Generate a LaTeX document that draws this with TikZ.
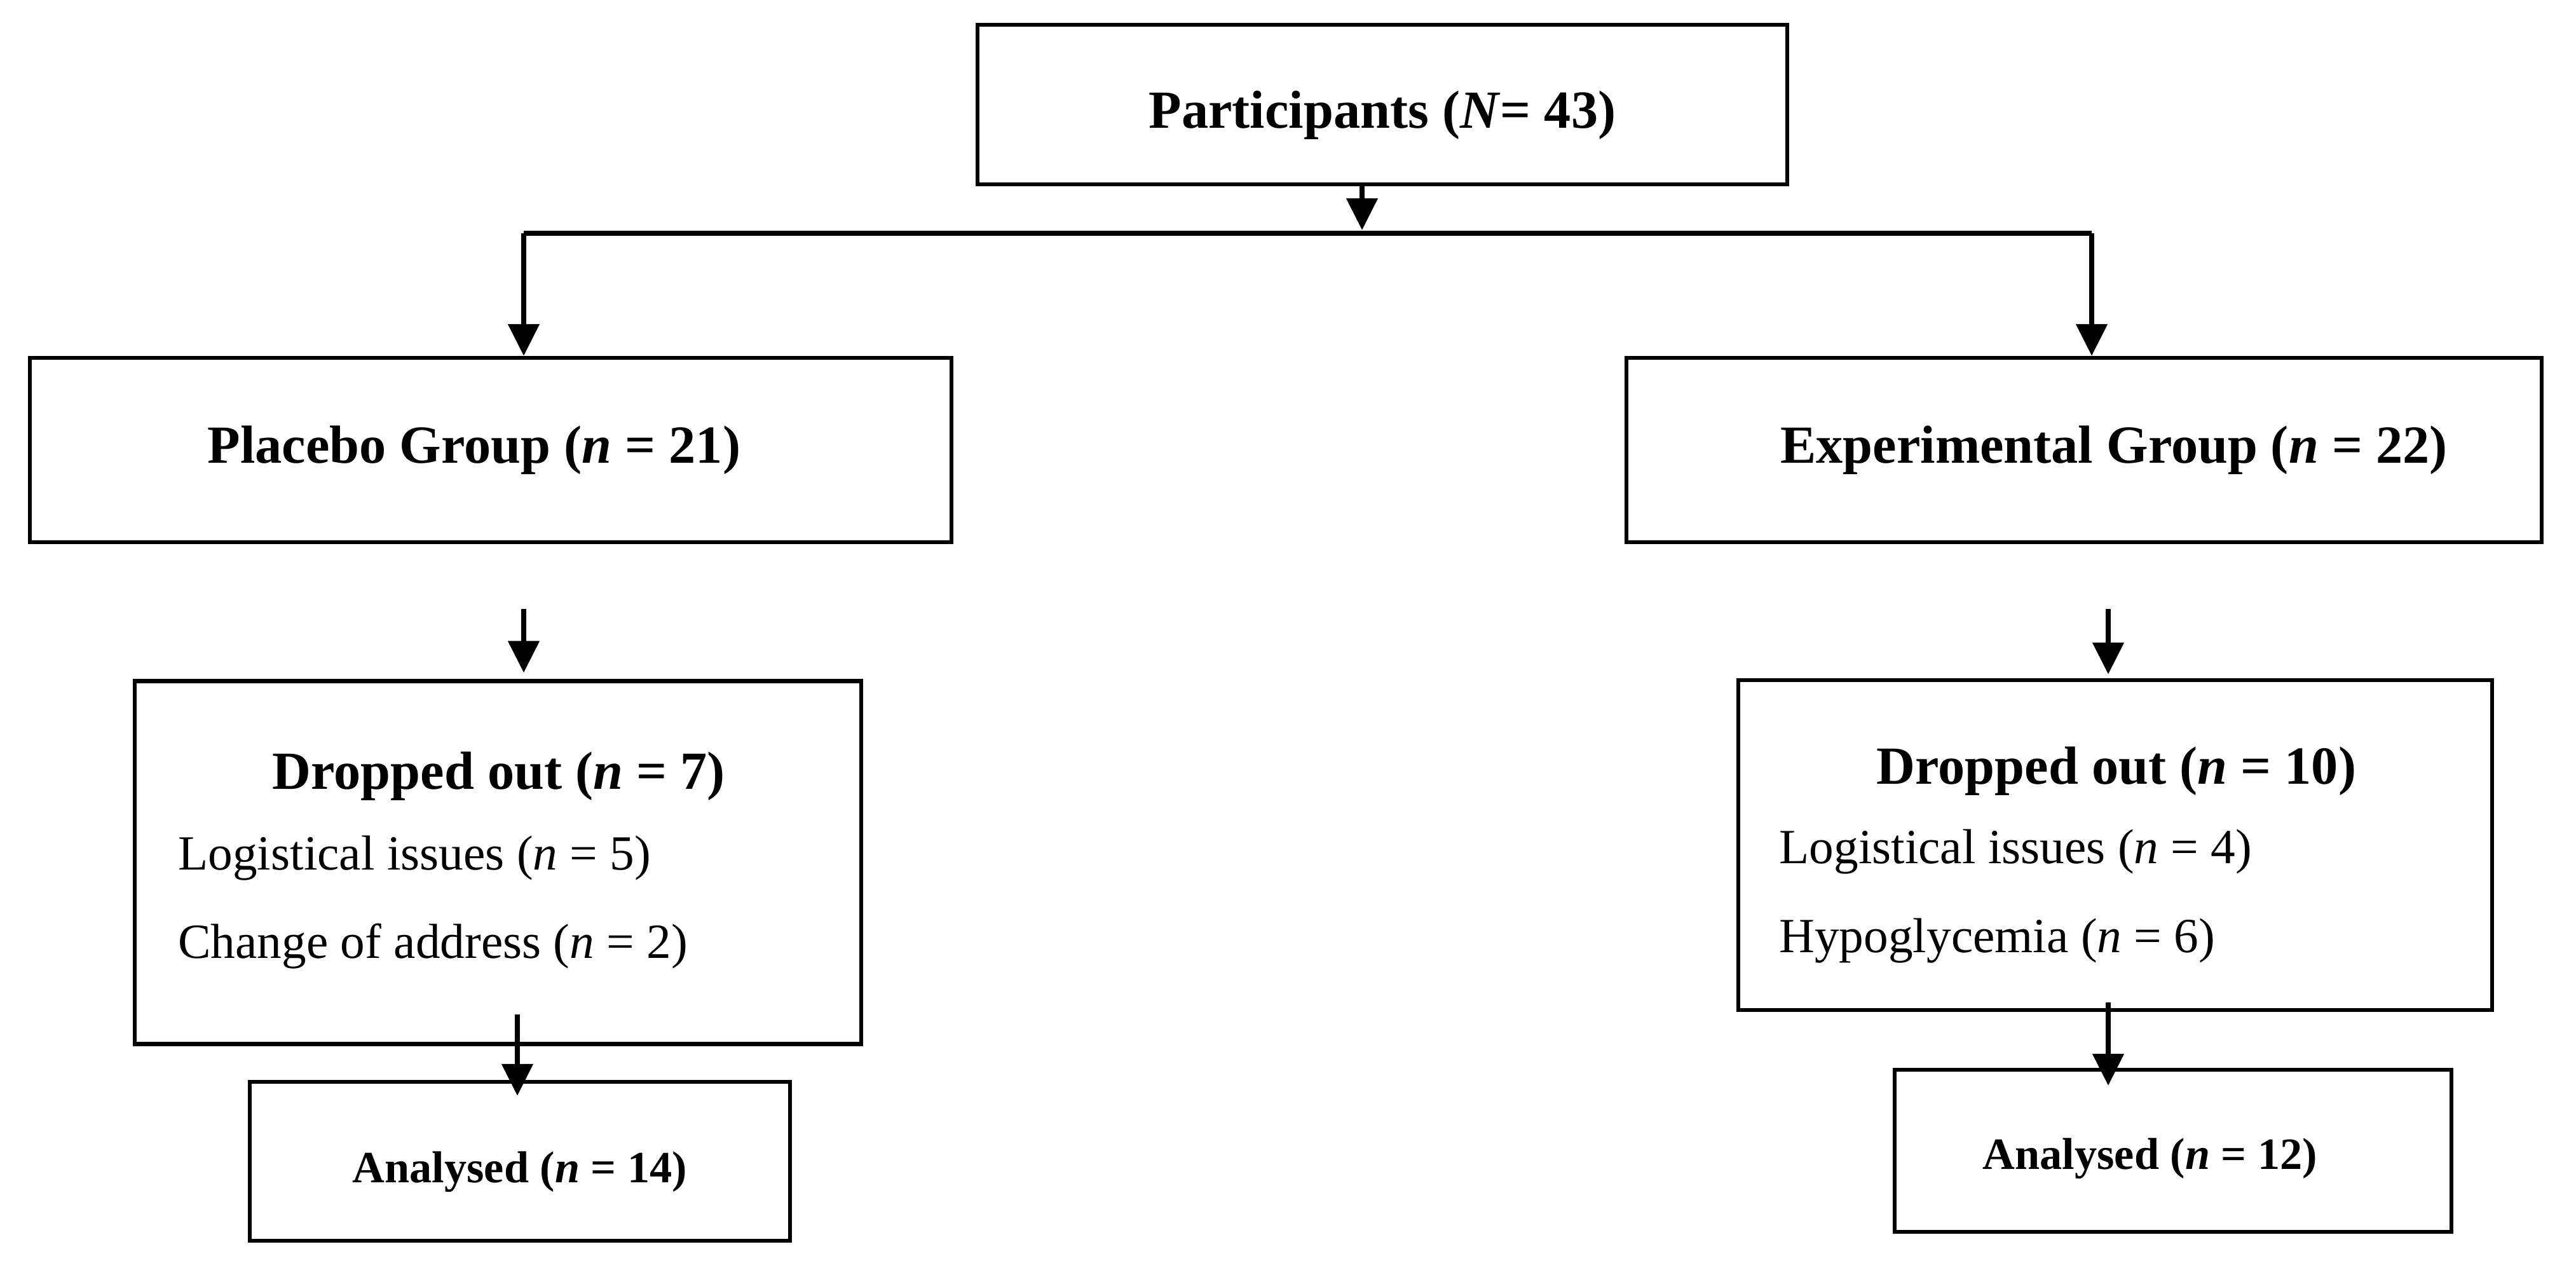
\documentclass[tikz,border=0pt]{standalone}
\usepackage{fontspec}
\setmainfont{Liberation Serif}
\usepackage{tikz}
\usetikzlibrary{arrows.meta}

\newcommand{\ttlfont}{\fontsize{24}{29}\selectfont\bfseries}
\newcommand{\linefont}{\fontsize{22}{26}\selectfont}
\newcommand{\anafont}{\fontsize{20}{24}\selectfont\bfseries}

\tikzset{
  box/.style={draw, line width=1.8pt, inner sep=0pt},
  conn/.style={line width=2.3pt},
  arr/.style={conn, -{Triangle[length=0.5cm,width=0.48cm]}}
}

\begin{document}
\begin{tikzpicture}
\useasboundingbox (0,0) rectangle (40.53,-19.86);

% boxes
\node[box, minimum width=12.74cm, minimum height=2.51cm] (part) at (21.75,-1.645) {};
\node[box, minimum width=14.50cm, minimum height=2.90cm] (plac) at (7.72,-7.08) {};
\node[box, minimum width=14.40cm, minimum height=2.90cm] (expg) at (32.79,-7.08) {};
\node[box, minimum width=11.43cm, minimum height=5.71cm] (drop1) at (7.835,-13.57) {};
\node[box, minimum width=11.86cm, minimum height=5.19cm] (drop2) at (33.28,-13.295) {};
\node[box, minimum width=8.50cm, minimum height=2.50cm] (ana1) at (8.18,-18.27) {};
\node[box, minimum width=8.76cm, minimum height=2.55cm] (ana2) at (34.19,-18.105) {};

% texts
\node (partt) at ([yshift=-0.17cm]part.center) {\ttlfont Participants (\textit{N}= 43)};
\node (plact) at ([xshift=-0.26cm]plac.center) {\ttlfont Placebo Group (\textit{n} = 21)};
\node (expgt) at ([xshift=0.47cm]expg.center) {\ttlfont Experimental Group (\textit{n} = 22)};
\node (ana1t) at ([yshift=-0.17cm]ana1.center) {\anafont Analysed (\textit{n} = 14)};
\node (ana2t) at ([xshift=-0.36cm,yshift=-0.12cm]ana2.center) {\anafont Analysed (\textit{n} = 12)};
\node (drop1t) at (7.85,-12.21) {\ttlfont Dropped out (\textit{n} = 7)};
\node[anchor=west] (drop1a) at (2.68,-13.50) {\linefont Logistical issues (\textit{n} = 5)};
\node[anchor=west] (drop1b) at (2.68,-14.89) {\linefont Change of address (\textit{n} = 2)};
\node (drop2t) at (33.30,-12.13) {\ttlfont Dropped out (\textit{n} = 10)};
\node[anchor=west] (drop2a) at (27.87,-13.40) {\linefont Logistical issues (\textit{n} = 4)};
\node[anchor=west] (drop2b) at (27.87,-14.80) {\linefont Hypoglycemia (\textit{n} = 6)};

% connectors
\coordinate (split) at (21.43,-3.62);
\coordinate (lcor) at (8.24,-3.67);
\coordinate (rcor) at (32.91,-3.67);
\coordinate (ltop) at (8.24,-9.58);
\coordinate (rtop) at (33.17,-9.58);
\coordinate (lbot) at (8.14,-15.96);
\coordinate (rbot) at (33.17,-15.77);

\draw[arr] (split |- part.south) -- (split);
\draw[conn] (lcor) -- (rcor);
\draw[arr] (lcor) -- (lcor |- plac.north);
\draw[arr] (rcor) -- (rcor |- expg.north);
\draw[arr] (ltop) -- ([yshift=0.1cm]ltop |- drop1.north);
\draw[arr] (rtop) -- ([yshift=0.06cm]rtop |- drop2.north);
\draw[arr] (lbot) -- ([yshift=-0.25cm]lbot |- ana1.north);
\draw[arr] (rbot) -- ([yshift=-0.28cm]rbot |- ana2.north);
\end{tikzpicture}
\end{document}
